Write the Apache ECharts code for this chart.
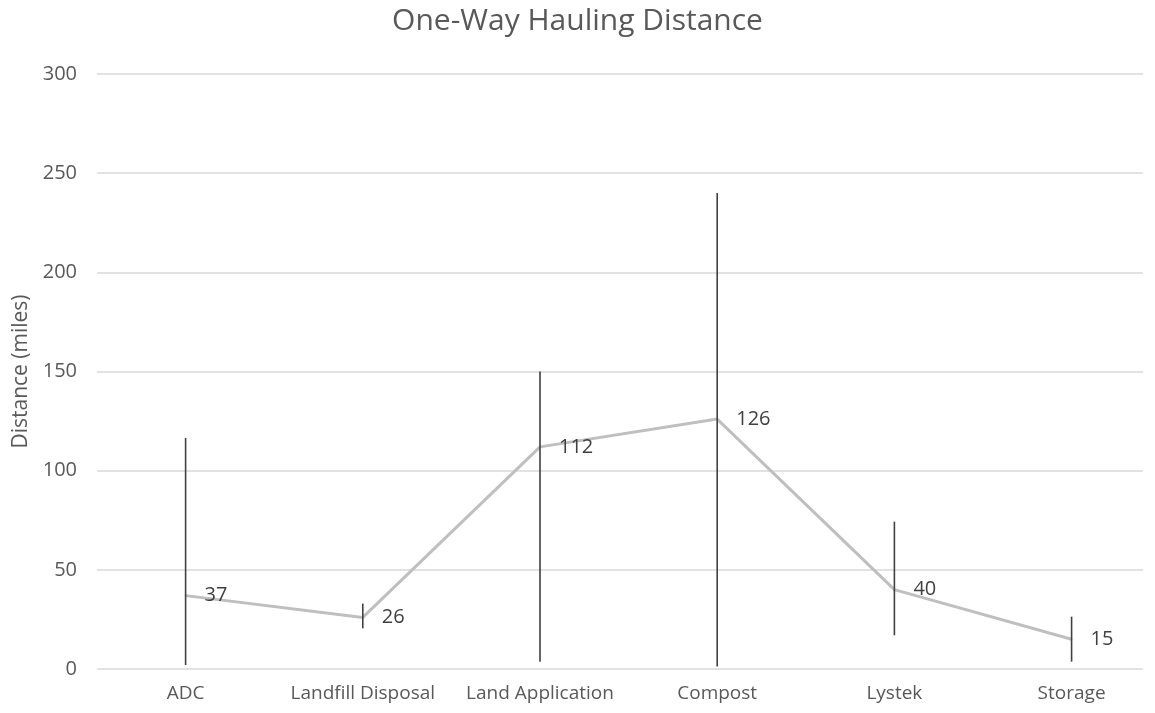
<!DOCTYPE html>
<html>
<head>
<meta charset="utf-8">
<script src="https://cdn.jsdelivr.net/npm/echarts@6/dist/echarts.min.js"></script>
<style>html,body{margin:0;padding:0;background:#fff;}#c{width:1155px;height:713px;}</style>
</head>
<body>
<div id="c"></div>
<script>
var categories = ['ADC', 'Landfill Disposal', 'Land Application', 'Compost', 'Lystek', 'Storage'];
var distances = [37, 26, 112, 126, 40, 15];
var lowValues = [2, 20.5, 3.7, 1.2, 17, 3.7];
var highValues = [116.5, 33, 150, 240, 74.3, 26.4];
var yTicks = [0, 50, 100, 150, 200, 250, 300];

var catIdx = categories.map(function (c, i) { return i; });
var errData = categories.map(function (c, i) { return [i, lowValues[i], highValues[i]]; });
var lineData = categories.map(function (c, i) { return [i, distances[i]]; });
var FONT = 'Open Sans';
var yMin = yTicks[0], yMax = yTicks[yTicks.length - 1];

var chart = echarts.init(document.getElementById('c'));
chart.setOption({
  animation: false,
  title: {
    text: 'One-Way Hauling Distance',
    left: 'center', top: 1,
    textStyle: { fontFamily: FONT, fontSize: 30, fontWeight: 'normal', color: '#595959' }
  },
  grid: { left: 97, right: 12, top: 74, bottom: 44 },
  xAxis: {
    type: 'value', min: -0.5, max: 5.403,
    axisLine: { show: false }, axisTick: { show: false },
    splitLine: { show: false },
    axisLabel: {
      color: '#595959', fontFamily: FONT, fontSize: 19, margin: 15,
      customValues: catIdx,
      showMinLabel: true, showMaxLabel: true, hideOverlap: false,
      formatter: function (v) { return categories[Math.round(v)] || ''; }
    }
  },
  yAxis: {
    type: 'value', min: yMin, max: yMax, interval: 50,
    name: 'Distance (miles)', nameLocation: 'middle', nameGap: 64, nameRotate: 90,
    nameTextStyle: { color: '#595959', fontFamily: FONT, fontSize: 21 },
    axisLine: { show: false }, axisTick: { show: false },
    axisLabel: { color: '#595959', fontFamily: FONT, fontSize: 20, margin: 20 },
    splitLine: { lineStyle: { color: '#d9d9d9', width: 1.5 } }
  },
  series: [
    {
      type: 'custom',
      data: errData,
      z: 3,
      renderItem: function (params, api) {
        var x = api.value(0);
        var lo = api.coord([x, api.value(1)]);
        var hi = api.coord([x, api.value(2)]);
        return {
          type: 'line',
          shape: { x1: lo[0], y1: lo[1], x2: hi[0], y2: hi[1] },
          style: { stroke: '#404040', lineWidth: 1.6 }
        };
      }
    },
    {
      type: 'line',
      data: lineData,
      z: 2,
      symbol: 'circle', symbolSize: 2, showSymbol: true,
      itemStyle: { color: '#bfbfbf' },
      lineStyle: { color: '#bfbfbf', width: 3 },
      label: {
        show: true, position: 'right', distance: 18,
        color: '#404040', fontFamily: FONT, fontSize: 20,
        formatter: function (p) { return p.value[1]; }
      }
    }
  ]
});
</script>
</body>
</html>
